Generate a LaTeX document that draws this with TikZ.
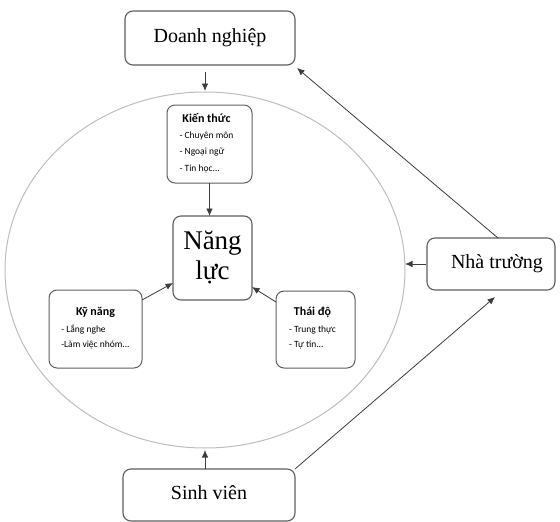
\documentclass[tikz,border=0pt]{standalone}
\usepackage{fontspec}
\setmainfont{Liberation Serif}
\newfontfamily\calfont{Carlito}
\usetikzlibrary{arrows.meta,shapes.geometric}
\definecolor{boxgray}{HTML}{5E5E5E}
\definecolor{linegray}{HTML}{3C3C3C}
\definecolor{ringgray}{HTML}{BDBDBD}
\begin{document}
\begin{tikzpicture}[x=1pt,y=-1pt,
  every node/.style={outer sep=0pt},
  bigbox/.style={draw=boxgray, line width=1.1pt, rounded corners=8pt, inner sep=0pt,
    font=\fontsize{20}{22}\selectfont},
  smallbox/.style={draw=boxgray, line width=1pt, rounded corners=8pt, inner sep=0pt,
    font=\calfont\fontsize{9.5}{11.5}\selectfont},
  arr/.style={draw=linegray, line width=0.8pt, -{Latex[length=7.5pt,width=6.5pt]}},
]
\useasboundingbox (0,0) rectangle (560,522);

% outer ring
\node[draw=ringgray, line width=1pt, ellipse, minimum width=400pt, minimum height=356pt, inner sep=0pt] (circ) at (205,270) {};

% outer boxes
\node[bigbox, minimum width=170pt, minimum height=54pt] (dn) at (210,38) {\raisebox{3pt}{Doanh nghiệp}};
\node[bigbox, minimum width=128pt, minimum height=52pt] (nt) at (491,264) {\hspace*{12pt}Nhà trường};
\node[bigbox, minimum width=172pt, minimum height=52pt] (sv) at (209,495) {\raisebox{5pt}{Sinh viên}};

% centre
\node[bigbox, font=\fontsize{27}{30}\selectfont, align=center, minimum width=79pt, minimum height=84pt] (nl) at (212.5,258) {Năng\\lực};

% inner boxes
\node[smallbox, minimum width=85pt, minimum height=78pt] (kt) at (209.5,144)
  {\begin{tabular}{@{}l@{}}\multicolumn{1}{@{}c@{}}{\fontsize{12}{14}\selectfont\bfseries Kiến thức}\\[4pt]
   - Chuyên môn\\[5pt] - Ngoại ngữ\\[5pt] - Tin học...\end{tabular}\hspace*{6pt}};
\node[smallbox, minimum width=93pt, minimum height=78pt] (kn) at (95.5,329)
  {\begin{tabular}{@{}l@{}}\multicolumn{1}{@{}c@{}}{\fontsize{12}{14}\selectfont\bfseries Kỹ năng}\\[6pt]
   - Lắng nghe\\[3pt] -Làm việc nhóm...\end{tabular}};
\node[smallbox, minimum width=79pt, minimum height=77pt] (td) at (315.5,329.5)
  {\begin{tabular}{@{}l@{}}\multicolumn{1}{@{}c@{}}{\fontsize{12}{14}\selectfont\bfseries Thái độ}\\[5pt]
   - Trung thực\\[4pt] - Tự tin...\end{tabular}\hspace*{6pt}};

% connectors
\draw[arr] ([yshift=-7pt]circ.north |- dn.south) -- ([yshift=1pt]circ.north);
\draw[arr] (circ.south |- sv.north) -- ([yshift=-2pt]circ.south);
\draw[arr] ([xshift=-1pt]nt.west) -- (nt.west -| circ.east);
\draw[arr] ([xshift=7pt]nt.north) -- ([xshift=2pt,yshift=-3pt]dn.south east);
\draw[arr] (sv.north east) -- ([xshift=4pt,yshift=-7pt]nt.south);
\draw[arr] (kt.south) -- (kt.south |- nl.north);
\draw[arr] ([yshift=-10pt]kn.north east) -- ([yshift=17pt]nl.south west);
\draw[arr] ([yshift=-11pt]td.north west) -- ([yshift=13pt]nl.south east);
\end{tikzpicture}
\end{document}
